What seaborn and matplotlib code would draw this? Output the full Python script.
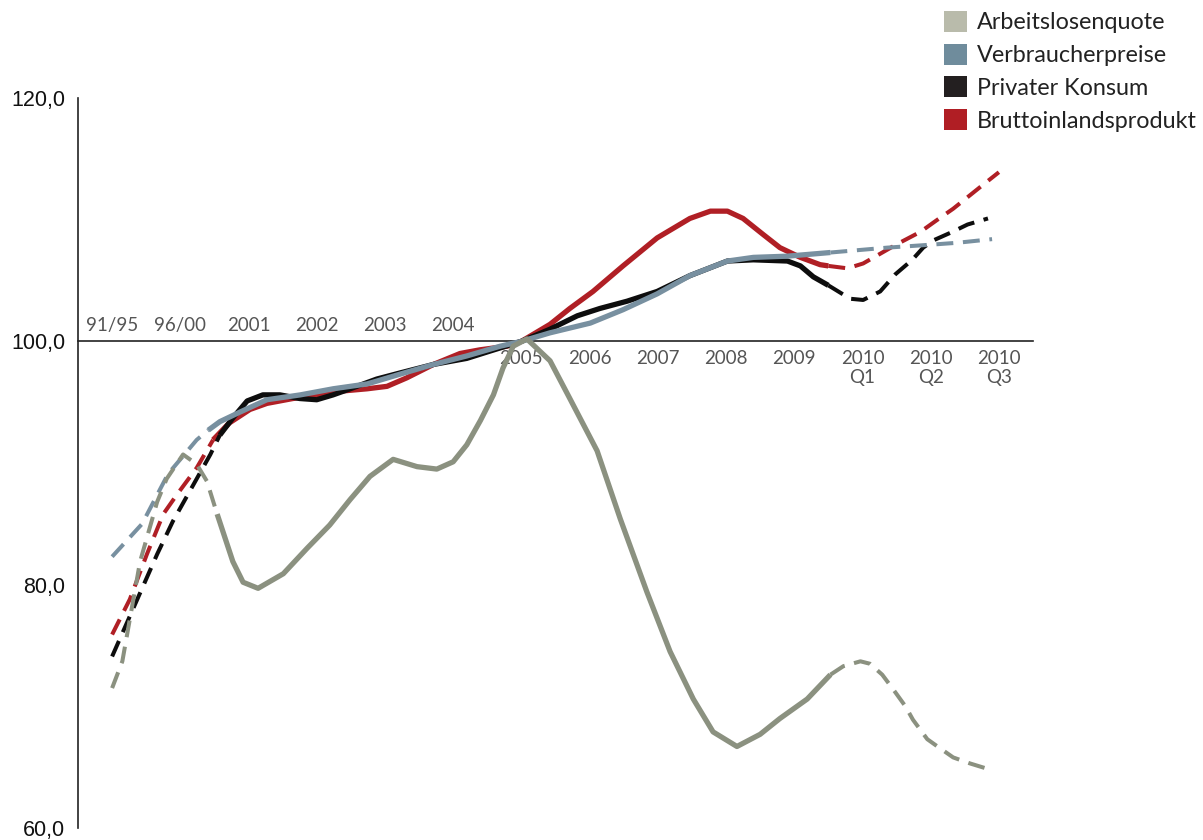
import numpy as np
import pandas as pd
import matplotlib
matplotlib.use("Agg")
import matplotlib.pyplot as plt
from matplotlib.patches import Patch
import seaborn as sns

# categories on the x axis (one slot each)
categories = ["91/95", "96/00", "2001", "2002", "2003", "2004", "2005",
              "2006", "2007", "2008", "2009", "2010\nQ1", "2010\nQ2", "2010\nQ3"]
y_ticks = [60, 80, 100, 120]

# index 2005 = 100 (position in category slots)
alq_pos = [0.50, 0.65, 0.91, 1.16, 1.30, 1.54, 1.74, 1.89, 2.04, 2.27, 2.42, 2.64,
           3.01, 3.36, 3.69, 3.99, 4.28, 4.62, 4.97, 5.26, 5.50, 5.70, 5.90, 6.09,
           6.23, 6.38, 6.58, 6.92, 7.21, 7.61, 7.95, 8.34, 8.68, 9.02, 9.31, 9.66,
           10.00, 10.29, 10.69, 11.03, 11.22, 11.47, 11.61, 11.79, 11.95, 12.13,
           12.24, 12.45, 12.60, 12.83, 13.08, 13.37]
alq_val = [71.5, 73.7, 81.9, 86.8, 88.7, 90.7, 89.9, 88.5, 85.8, 81.9, 80.2, 79.7,
           80.9, 83.0, 84.9, 87.0, 88.9, 90.3, 89.7, 89.5, 90.1, 91.5, 93.5, 95.6,
           97.8, 99.6, 100.2, 98.4, 95.3, 91.0, 85.4, 79.4, 74.5, 70.6, 67.9, 66.7,
           67.7, 69.0, 70.6, 72.6, 73.3, 73.7, 73.5, 72.6, 71.4, 70.0,
           68.9, 67.3, 66.7, 65.8, 65.3, 64.8]

vpi_pos = [0.50, 0.94, 1.32, 1.74, 1.91, 2.08, 2.38, 2.77, 3.26, 3.74, 4.24, 4.72,
           5.21, 5.70, 6.19, 6.50, 6.92, 7.51, 7.99, 8.49, 8.97, 9.52, 9.90, 10.40,
           11.03, 11.86, 12.39, 12.89, 13.40]
vpi_val = [82.3, 85.0, 89.1, 91.9, 92.7, 93.4, 94.2, 95.2, 95.6, 96.1, 96.5, 97.3,
           98.1, 98.8, 99.6, 100.0, 100.7, 101.5, 102.6, 103.9, 105.4, 106.6, 106.9, 107.0,
           107.3, 107.7, 107.9, 108.1, 108.4]

pk_pos = [0.50, 1.16, 1.39, 1.69, 1.94, 2.08, 2.27, 2.48, 2.71, 2.96, 3.25, 3.50,
          3.74, 3.99, 4.38, 4.72, 5.21, 5.70, 6.04, 6.50, 6.92, 7.32, 7.65, 8.05,
          8.49, 8.97, 9.52, 9.90, 10.40, 10.59, 10.78, 11.00, 11.32, 11.51, 11.76,
          11.98, 12.23, 12.39, 12.54, 12.82, 13.04, 13.34]
pk_val = [74.1, 82.5, 85.2, 88.2, 90.7, 92.3, 93.7, 95.1, 95.6, 95.6, 95.3, 95.2,
          95.6, 96.1, 96.9, 97.4, 98.1, 98.6, 99.2, 100.0, 101.0, 102.1, 102.7, 103.3,
          104.1, 105.4, 106.6, 106.7, 106.6, 106.2, 105.3, 104.6, 103.5, 103.4, 104.1,
          105.5, 106.7, 107.7, 108.3, 109.0, 109.6, 110.1]

bip_pos = [0.50, 0.76, 1.01, 1.25, 1.45, 1.74, 1.98, 2.22, 2.52, 2.77, 3.15, 3.50,
           3.84, 4.24, 4.53, 4.82, 5.21, 5.60, 5.89, 6.29, 6.50, 6.92, 7.21, 7.55,
           7.99, 8.49, 8.97, 9.27, 9.52, 9.75, 10.04, 10.29, 10.59, 10.88, 11.00,
           11.28, 11.51, 11.76, 12.01, 12.35, 12.60, 12.83, 13.23, 13.50]
bip_val = [75.9, 78.8, 82.5, 85.8, 87.4, 89.6, 91.9, 93.3, 94.4, 94.9, 95.3, 95.6,
           95.9, 96.1, 96.3, 97.0, 98.1, 99.0, 99.3, 99.6, 100.0, 101.4, 102.7, 104.1,
           106.2, 108.5, 110.1, 110.7, 110.7, 110.1, 108.8, 107.7, 106.9, 106.3, 106.2,
           106.0, 106.4, 107.2, 108.0, 109.0, 110.0, 110.9, 112.7, 113.9]

# where the solid (actual) part starts and ends; outside it the line is an estimate
series = [
    # label, pos, val, solid from, solid to, line colour, legend colour
    ("Bruttoinlandsprodukt", bip_pos, bip_val, 1.98, 11.00, "#b01f25", "#b01e24"),
    ("Privater Konsum", pk_pos, pk_val, 2.08, 11.00, "#0d0d0d", "#231f20"),
    ("Verbraucherpreise", vpi_pos, vpi_val, 1.91, 11.03, "#7890a0", "#6f8c9c"),
    ("Arbeitslosenquote", alq_pos, alq_val, 2.04, 11.03, "#8b9180", "#b9bbab"),
]

sns.set_style("white")
plt.rcParams["font.family"] = ["Lato", "DejaVu Sans"]

fig = plt.figure(figsize=(12.03, 8.4), dpi=100)
ax = fig.add_axes([78 / 1203, 1 - 828 / 840, (1033 - 78) / 1203, (828 - 98) / 840])

for label, pos, val, s0, s1, col, _ in series:
    df = pd.DataFrame({"pos": pos, "val": val})
    parts = [
        (df[df.pos <= s0], (0, (4.2, 2.4))),
        (df[(df.pos >= s0) & (df.pos <= s1)], "-"),
        (df[df.pos >= s1], (0, (4.2, 2.4))),
    ]
    for part, ls in parts:
        if len(part) < 2:
            continue
        lw = 3.8 if ls == "-" else 2.9
        sns.lineplot(data=part, x="pos", y="val", ax=ax, color=col, lw=lw,
                     linestyle=ls, sort=False, estimator=None,
                     solid_capstyle="butt", dash_capstyle="butt")

ax.set_xlim(0, len(categories))
ax.set_ylim(y_ticks[0], y_ticks[-1])
ax.set_xlabel("")
ax.set_ylabel("")

# axis styling
for s in ["top", "right"]:
    ax.spines[s].set_visible(False)
ax.spines["bottom"].set_position(("data", 100))
ax.spines["bottom"].set_zorder(0)
for s in ["left", "bottom"]:
    ax.spines[s].set_color("#222222")
    ax.spines[s].set_linewidth(1.2)

ax.set_xticks(np.arange(len(categories) + 1))
ax.set_xticklabels([])
ax.tick_params(axis="x", direction="out", length=6, width=1.2, color="#222222")
ax.set_yticks(y_ticks)
ax.set_yticklabels([f"{v:.1f}".replace(".", ",") for v in y_ticks],
                   fontfamily="Liberation Sans", fontsize=15.5, color="#111111")
ax.tick_params(axis="y", direction="out", length=5, width=1.0, color="#222222", pad=4)

# category labels: first six above the axis, the rest below
for i, cat in enumerate(categories):
    if i < 6:
        ax.text(i + 0.5, 100.6, cat, ha="center", va="bottom", fontsize=13.5,
                color="#555555")
    else:
        ax.text(i + 0.5, 99.3, cat, ha="center", va="top", fontsize=13.5,
                color="#555555", linespacing=1.15, zorder=0)

handles = [Patch(facecolor=leg, edgecolor="none") for _, _, _, _, _, _, leg in series[::-1]]
labels = [lab for lab, *_ in series[::-1]]
fig.legend(handles, labels, loc="upper left", bbox_to_anchor=(944 / 1203, 1 - 11 / 840),
           frameon=False, fontsize=16.8, handlelength=1.0, handleheight=1.0,
           handletextpad=0.4, labelspacing=0.44, borderaxespad=0, borderpad=0,
           labelcolor="#222222")

fig.savefig("out.png", dpi=100)
